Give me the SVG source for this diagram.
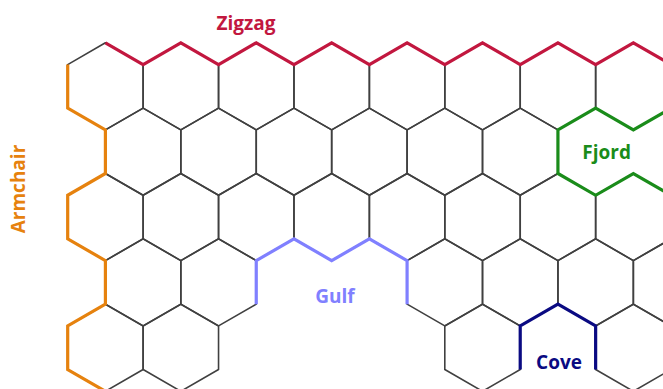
<svg xmlns="http://www.w3.org/2000/svg" xmlns:xlink="http://www.w3.org/1999/xlink" width="663" height="389" viewBox="0 0 663 389">
<style>
.hex{fill:none;stroke:#404040;stroke-width:1.6;stroke-linejoin:round}
.edge{fill:none;stroke-width:3.2;stroke-linejoin:miter;stroke-linecap:butt}
.lbl{font-family:"Open Sans","Liberation Sans",sans-serif;font-weight:700;font-size:19px;text-anchor:middle}
</style>
<defs>
<path id="h" d="M0,-43.54 L37.71,-21.77 L37.71,21.77 L0,43.54 L-37.71,21.77 L-37.71,-21.77 Z"/>
</defs>
<rect width="663" height="389" fill="#ffffff"/>
<g id="lattice" class="hex">
<g id="row0">
<use xlink:href="#h" x="105.41" y="86.34"/><use xlink:href="#h" x="180.83" y="86.34"/><use xlink:href="#h" x="256.25" y="86.34"/><use xlink:href="#h" x="331.67" y="86.34"/><use xlink:href="#h" x="407.09" y="86.34"/><use xlink:href="#h" x="482.51" y="86.34"/><use xlink:href="#h" x="557.93" y="86.34"/><use xlink:href="#h" x="633.35" y="86.34"/>
</g>
<g id="row1">
<use xlink:href="#h" x="143.12" y="151.69"/><use xlink:href="#h" x="218.54" y="151.69"/><use xlink:href="#h" x="293.96" y="151.69"/><use xlink:href="#h" x="369.38" y="151.69"/><use xlink:href="#h" x="444.80" y="151.69"/><use xlink:href="#h" x="520.22" y="151.69"/>
</g>
<g id="row2">
<use xlink:href="#h" x="105.41" y="217.04"/><use xlink:href="#h" x="180.83" y="217.04"/><use xlink:href="#h" x="256.25" y="217.04"/><use xlink:href="#h" x="331.67" y="217.04"/><use xlink:href="#h" x="407.09" y="217.04"/><use xlink:href="#h" x="482.51" y="217.04"/><use xlink:href="#h" x="557.93" y="217.04"/><use xlink:href="#h" x="633.35" y="217.04"/>
</g>
<g id="row3">
<use xlink:href="#h" x="143.12" y="282.39"/><use xlink:href="#h" x="218.54" y="282.39"/><use xlink:href="#h" x="444.80" y="282.39"/><use xlink:href="#h" x="520.22" y="282.39"/><use xlink:href="#h" x="595.64" y="282.39"/><use xlink:href="#h" x="671.06" y="282.39"/>
</g>
<g id="row4">
<use xlink:href="#h" x="105.41" y="347.74"/><use xlink:href="#h" x="180.83" y="347.74"/><use xlink:href="#h" x="482.51" y="347.74"/><use xlink:href="#h" x="633.35" y="347.74"/>
</g>
</g>
<g id="edges" class="edge">
<polyline id="zigzag-edge" stroke="#C2173F" points="105.41,42.8 143.12,64.57 180.83,42.8 218.54,64.57 256.25,42.8 293.96,64.57 331.67,42.8 369.38,64.57 407.09,42.8 444.80,64.57 482.51,42.8 520.22,64.57 557.93,42.8 595.64,64.57 633.35,42.8 671.06,64.57"/>
<polyline id="armchair-edge" stroke="#E6820E" points="67.7,64.57 67.7,108.15 105.41,129.92 105.41,173.5 67.7,195.27 67.7,238.85 105.41,260.62 105.41,304.2 67.7,325.97 67.7,369.55 105.41,391.32"/>
<polyline id="fjord-edge" stroke="#1A8C1A" points="671.06,108.15 633.35,129.92 595.64,108.15 557.93,129.92 557.93,173.5 595.64,195.27 633.35,173.5 671.06,195.27"/>
<polyline id="gulf-edge" stroke="#8080FF" points="256.25,304.2 256.25,260.62 293.96,238.85 331.67,260.62 369.38,238.85 407.09,260.62 407.09,304.2"/>
<polyline id="cove-edge" stroke="#0A0A82" points="520.22,369.55 520.22,325.97 557.93,304.2 595.64,325.97 595.64,369.55"/>
</g>
<g id="labels" class="lbl">
<text id="zigzag" x="246" y="29.5" fill="#C2173F">Zigzag</text>
<text id="armchair" transform="translate(25,189) rotate(-90)" fill="#E6820E">Armchair</text>
<text id="fjord" x="606.7" y="159.3" fill="#1A8C1A">Fjord</text>
<text id="gulf" x="335" y="302.7" fill="#8080FF">Gulf</text>
<text id="cove" x="559" y="369" fill="#0A0A82">Cove</text>
</g>
</svg>
